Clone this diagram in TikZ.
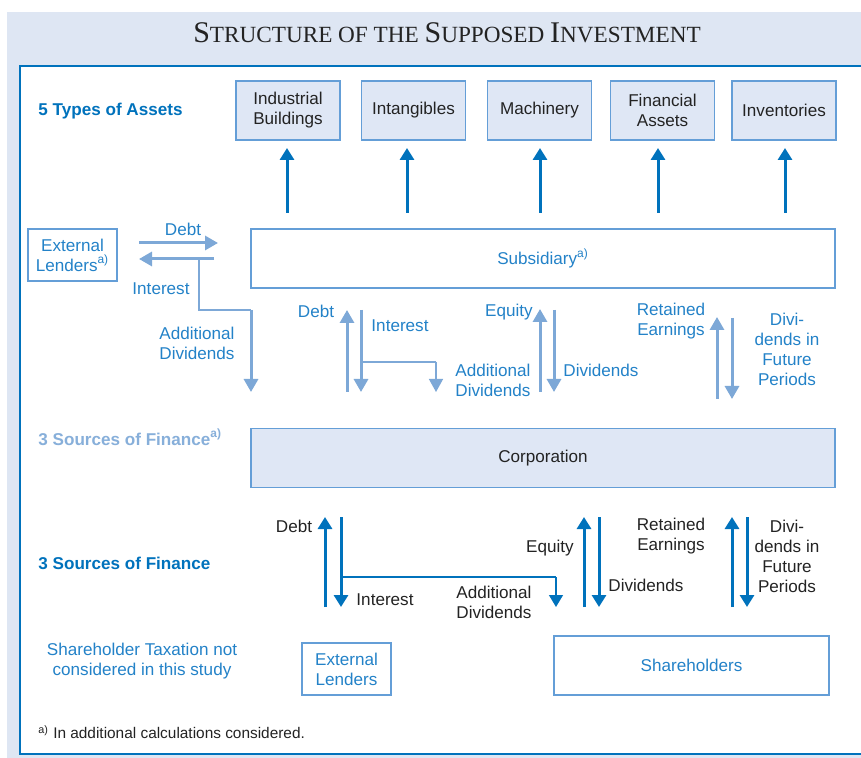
\documentclass[tikz,border=0pt]{standalone}
\usepackage{fontspec}
\setmainfont{Liberation Sans}
\newfontfamily\titlefont{Liberation Serif}
\usetikzlibrary{arrows.meta}

\definecolor{pagebg}{RGB}{222,230,243}
\definecolor{boxfill}{RGB}{223,231,245}
\definecolor{boxline}{RGB}{100,158,215}
\definecolor{blueD}{RGB}{0,114,188}
\definecolor{blueM}{RGB}{35,130,200}
\definecolor{blueL}{RGB}{125,168,215}
\definecolor{blueP}{RGB}{135,175,218}
\definecolor{inkgray}{RGB}{35,35,35}

\newcommand{\dfont}{\fontsize{8.55}{10}\selectfont}
\newcommand{\tbig}[1]{{\fontsize{15}{17}\selectfont #1}}

\begin{document}
\begin{tikzpicture}[x=0.5pt, y=-0.5pt,
    box/.style={draw=boxline, line width=0.6pt, align=center, font=\dfont, inner sep=0pt},
    asset/.style={box, fill=boxfill, minimum width=52pt, minimum height=29.5pt, text=inkgray},
    wide/.style={box, minimum width=292pt, minimum height=29.5pt},
    lender/.style={box, fill=white, minimum width=44.5pt, minimum height=26pt, text=blueM},
    lbl/.style={font=\dfont, align=center, inner sep=0pt},
    head/.style={font=\dfont\bfseries, anchor=west, inner sep=0pt},
    thickflow/.style={line width=1.5pt, draw=blueD, -{Triangle[width=7pt,length=6pt]}},
    paleflow/.style={line width=1.5pt, draw=blueL, -{Triangle[width=7pt,length=6.5pt]}},
    paleline/.style={line width=0.7pt, draw=blueL},
    darkline/.style={line width=0.7pt, draw=blueD}
]
    \useasboundingbox (0,0) rectangle (861,758);

    % background and frame
    \fill[pagebg] (7,12) rectangle (861,758);
    \filldraw[fill=white, draw=blueD, line width=1pt] (20,66) rectangle (900,754);

    \node[font=\titlefont\fontsize{11.6}{13}\selectfont, text=inkgray] (title) at (447,33)
        {\tbig{S}TRUCTURE OF THE \tbig{S}UPPOSED \tbig{I}NVESTMENT};

    % row headings
    \node[head, text=blueD] (hassets) at (38,111) {5 Types of Assets};
    \node[head, text=blueP] (hsubfin) at (38,437) {3 Sources of Finance\textsuperscript{a)}};
    \node[head, text=blueD] (hcorpfin) at (38,563) {3 Sources of Finance};
    \node[lbl, text=blueM] (htax) at (142,661) {Shareholder Taxation not\\considered in this study};
    \node[font=\fontsize{7.7}{9}\selectfont, text=inkgray, anchor=west, inner sep=0pt] (note) at (38,732)
        {\textsuperscript{a)} In additional calculations considered.};

    % assets and investment arrows
    \foreach \n/\x/\ax/\t in {ib/288/287/{Industrial\\Buildings}, in/413.5/407/Intangibles,
                             ma/539.5/540/Machinery, fa/662.5/658/{Financial\\Assets},
                             iv/784/785/Inventories} {
        \node[asset] (\n) at (\x,110.5) {\t};
        \draw[thickflow] (\ax,213) -- (\ax,148);
    }

    % main boxes
    \node[wide, fill=white, text=blueM] (sub) at (543,258.5) {Subsidiary\textsuperscript{a)}};
    \node[wide, fill=boxfill, text=inkgray] (corp) at (543,458) {Corporation};
    \node[lender] (lendtop) at (72.5,255) {External\\Lenders\textsuperscript{a)}};
    \node[lender] (lendbot) at (346.5,669) {External\\Lenders};
    \node[box, fill=white, text=blueM, minimum width=137.5pt, minimum height=29.5pt] (share) at (691.5,665.5) {Shareholders};

    % subsidiary <-> external lenders
    \draw[paleflow] (139,243) -- (218,243);
    \draw[paleflow] (214,259) -- (139,259);
    \draw[paleline] (199,259) -- (199,310) -- (251,310);
    \draw[paleflow] (251,310) -- (251,392);
    \node[lbl, text=blueM] (ldebt) at (183,229) {Debt};
    \node[lbl, text=blueM] (lint) at (161,289) {Interest};
    \node[lbl, text=blueM] (ladd) at (197,343) {Additional\\Dividends};

    % subsidiary <-> corporation
    \draw[paleflow] (347,392) -- (347,310);
    \draw[paleflow] (361,310) -- (361,392);
    \draw[paleline] (361,362) -- (436,362);
    \draw[paleflow, line width=0.7pt] (436,362) -- (436,392);
    \draw[paleflow] (540,392) -- (540,309);
    \draw[paleflow] (554,310) -- (554,392);
    \draw[paleflow] (717,399) -- (717,317);
    \draw[paleflow] (732,318) -- (732,399);
    \node[lbl, text=blueM] (mdebt) at (316,311) {Debt};
    \node[lbl, text=blueM] (mint) at (400,326) {Interest};
    \node[lbl, text=blueM] (madd) at (493,380) {Additional\\Dividends};
    \node[lbl, text=blueM] (meq) at (509,312) {Equity};
    \node[lbl, text=blueM] (mdiv) at (601,370) {Dividends};
    \node[lbl, text=blueM] (mret) at (671,321) {Retained\\Earnings};
    \node[lbl, text=blueM] (mfut) at (787,349) {Divi-\\dends in\\Future\\Periods};

    % corporation <-> lenders and shareholders
    \draw[thickflow] (325,607) -- (325,517);
    \draw[thickflow] (341,517) -- (341,607);
    \draw[darkline] (341,577) -- (556,577);
    \draw[thickflow, line width=0.7pt] (556,577) -- (556,607);
    \draw[thickflow] (584,607) -- (584,517);
    \draw[thickflow] (599,517) -- (599,607);
    \draw[thickflow] (732,607) -- (732,517);
    \draw[thickflow] (747,517) -- (747,607);
    \node[lbl, text=inkgray] (bdebt) at (294,526) {Debt};
    \node[lbl, text=inkgray] (bint) at (385,600) {Interest};
    \node[lbl, text=inkgray] (badd) at (494,602) {Additional\\Dividends};
    \node[lbl, text=inkgray] (beq) at (550,548) {Equity};
    \node[lbl, text=inkgray] (bdiv) at (646,585) {Dividends};
    \node[lbl, text=inkgray] (bret) at (671,536) {Retained\\Earnings};
    \node[lbl, text=inkgray] (bfut) at (787,556) {Divi-\\dends in\\Future\\Periods};

\end{tikzpicture}
\end{document}
